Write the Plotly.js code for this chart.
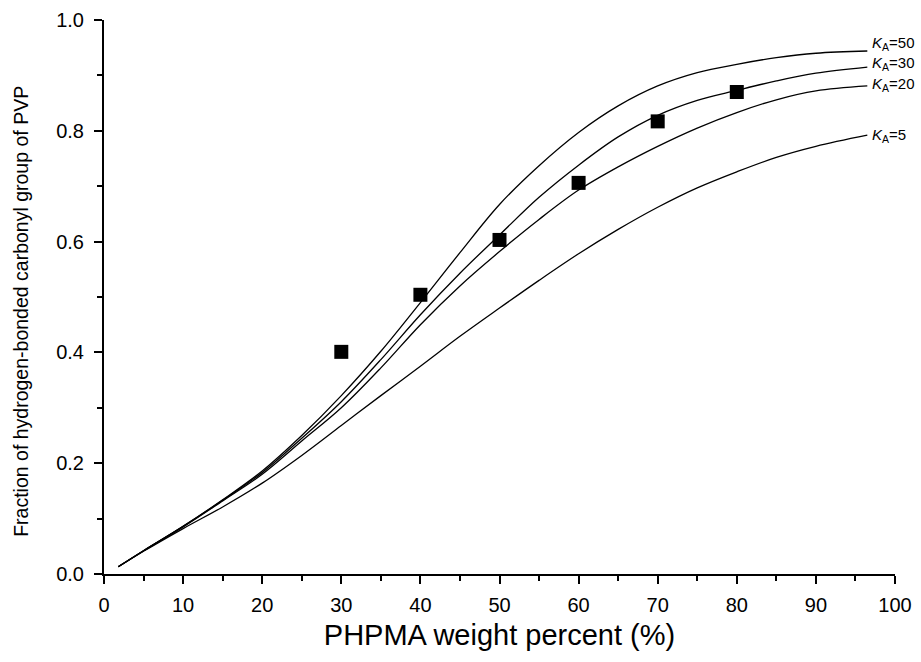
<!DOCTYPE html>
<html>
<head>
<meta charset="utf-8">
<script src="https://cdn.plot.ly/plotly-3.0.1.min.js"></script>
<style>html,body{margin:0;padding:0;background:#fff;}#chart{width:921px;height:662px;}</style>
</head>
<body>
<div id="chart"></div>
<script>
// Curve x positions (PHPMA weight percent)
const curveX = [1.8, 5, 10, 15, 20, 25, 30, 35, 40, 45, 50, 55, 60, 65, 70, 75, 80, 85, 90, 96.5];
// Model curves for different K_A
const kA50 = [0.013, 0.042, 0.086, 0.134, 0.186, 0.250, 0.322, 0.402, 0.490, 0.580, 0.667, 0.737, 0.797, 0.845, 0.881, 0.905, 0.920, 0.932, 0.940, 0.944];
const kA30 = [0.013, 0.042, 0.086, 0.133, 0.183, 0.245, 0.311, 0.387, 0.468, 0.543, 0.612, 0.680, 0.738, 0.789, 0.828, 0.855, 0.873, 0.890, 0.904, 0.915];
const kA20 = [0.013, 0.042, 0.085, 0.132, 0.180, 0.240, 0.300, 0.372, 0.450, 0.520, 0.582, 0.640, 0.693, 0.735, 0.772, 0.805, 0.833, 0.856, 0.872, 0.881];
const kA5  = [0.013, 0.041, 0.082, 0.121, 0.164, 0.214, 0.268, 0.322, 0.375, 0.429, 0.480, 0.530, 0.578, 0.622, 0.662, 0.697, 0.726, 0.752, 0.772, 0.792];
// Experimental points
const expX = [30, 40, 50, 60, 70, 80];
const expY = [0.401, 0.504, 0.603, 0.706, 0.817, 0.870];
// Curve labels
const labelText = ['<i>K</i><sub>A</sub>=50', '<i>K</i><sub>A</sub>=30', '<i>K</i><sub>A</sub>=20', '<i>K</i><sub>A</sub>=5'];
const labelY = [0.958, 0.921, 0.884, 0.792];
// Axis titles
const xTitle = 'PHPMA weight percent (%)';
const yTitle = 'Fraction of hydrogen-bonded carbonyl group of PVP';

const lineStyle = {color: '#000', width: 1.3, shape: 'spline', smoothing: 1};
const traces = [
  {x: curveX, y: kA50, mode: 'lines', line: lineStyle, hoverinfo: 'skip'},
  {x: curveX, y: kA30, mode: 'lines', line: lineStyle, hoverinfo: 'skip'},
  {x: curveX, y: kA20, mode: 'lines', line: lineStyle, hoverinfo: 'skip'},
  {x: curveX, y: kA5, mode: 'lines', line: lineStyle, hoverinfo: 'skip'},
  {x: expX, y: expY, mode: 'markers', marker: {symbol: 'square', size: 14, color: '#000'}}
];

const font = 'Liberation Sans, Arial, sans-serif';
const annotations = labelText.map((t, i) => ({
  x: 96.8, y: labelY[i], xref: 'x', yref: 'y', text: t, showarrow: false,
  xanchor: 'left', yanchor: 'middle', font: {family: font, size: 15, color: '#000'}
}));
annotations.push({
  x: -0.105, y: 0.475, xref: 'paper', yref: 'paper', text: yTitle, showarrow: false,
  textangle: -90, xanchor: 'center', yanchor: 'middle', font: {family: font, size: 19.5, color: '#000'}
});

const layout = {
  width: 921, height: 662,
  margin: {l: 104, r: 26, t: 20, b: 88},
  paper_bgcolor: '#fff', plot_bgcolor: '#fff',
  showlegend: false,
  font: {family: font, color: '#000'},
  xaxis: {
    range: [0, 100], tickvals: [0,10,20,30,40,50,60,70,80,90,100],
    ticks: 'outside', ticklen: 8, tickwidth: 2, tickcolor: '#000', ticklabelstandoff: 4,
    showline: true, linewidth: 2, linecolor: '#000', showgrid: false, zeroline: false,
    tickfont: {family: font, size: 20, color: '#000'},
    minor: {dtick: 5, ticks: 'outside', ticklen: 5, tickwidth: 2, tickcolor: '#000', showgrid: false},
    title: {text: xTitle, font: {family: font, size: 29, color: '#000'}, standoff: 10}
  },
  yaxis: {
    range: [0, 1], tickvals: [0, 0.2, 0.4, 0.6, 0.8, 1.0], tickformat: '.1f',
    ticks: 'outside', ticklen: 8, tickwidth: 2, tickcolor: '#000', ticklabelstandoff: 6,
    showline: true, linewidth: 2, linecolor: '#000', showgrid: false, zeroline: false,
    tickfont: {family: font, size: 20, color: '#000'},
    minor: {dtick: 0.1, ticks: 'outside', ticklen: 5, tickwidth: 2, tickcolor: '#000', showgrid: false}
  },
  annotations: annotations
};

Plotly.newPlot('chart', traces, layout, {displayModeBar: false, staticPlot: true});
</script>
</body>
</html>
